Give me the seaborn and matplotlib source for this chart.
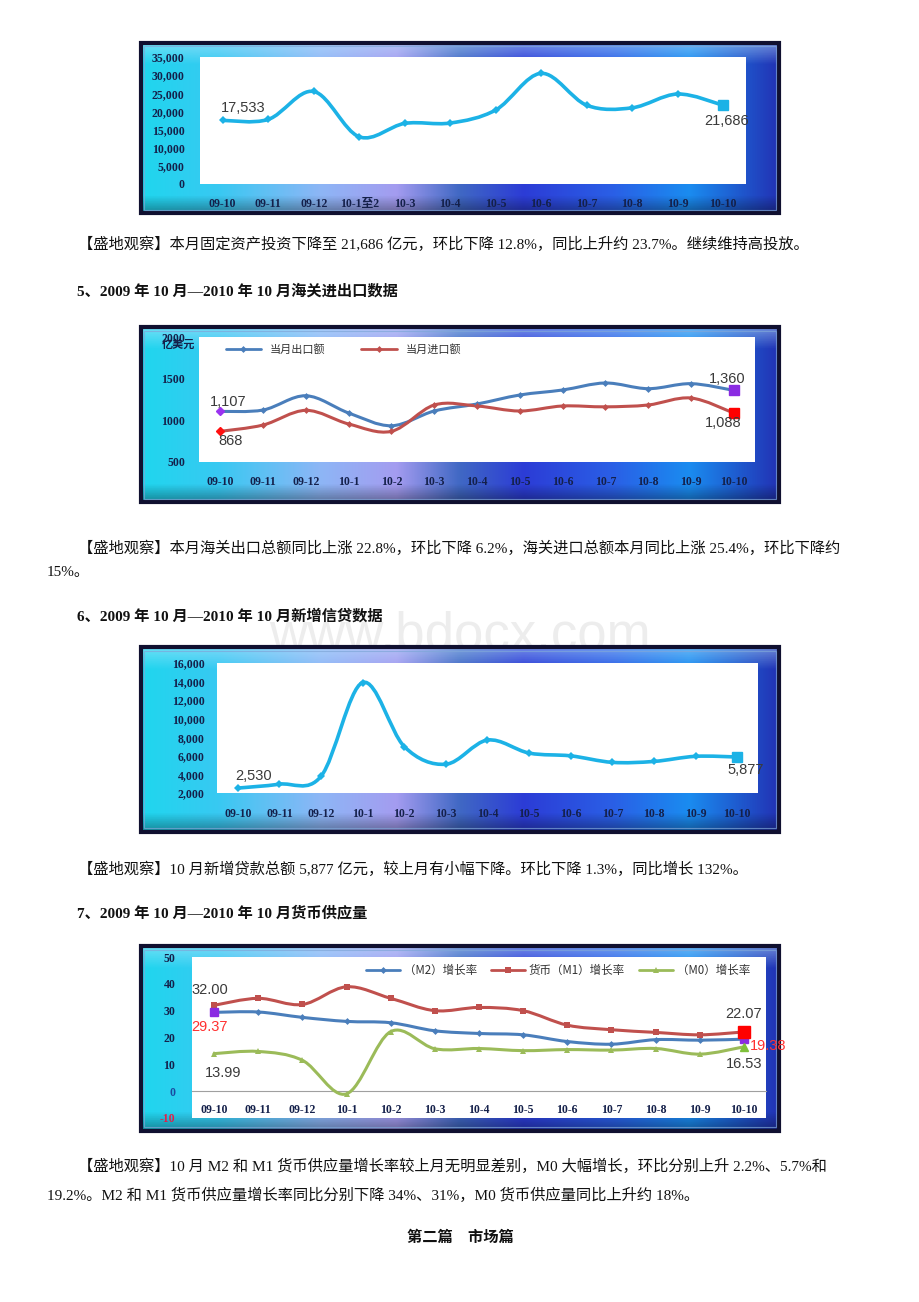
import numpy as np
import matplotlib
matplotlib.use("Agg")
import matplotlib.pyplot as plt
from matplotlib.path import Path
from matplotlib.patches import PathPatch, Rectangle
from matplotlib.lines import Line2D
from matplotlib.colors import to_rgb
import seaborn as sns

sns.set_style("white")
plt.rcParams['font.family'] = ['Noto Sans CJK SC', 'DejaVu Sans']

# ---------------- data ----------------
months1 = ["09-10", "09-11", "09-12", "10-1至2", "10-3", "10-4", "10-5", "10-6", "10-7", "10-8", "10-9", "10-10"]
invest = [17533, 17800, 25500, 13000, 16700, 16800, 20400, 30500, 21700, 21000, 24800, 21686]

months = ["09-10", "09-11", "09-12", "10-1", "10-2", "10-3", "10-4", "10-5", "10-6", "10-7", "10-8", "10-9", "10-10"]
export_vals = [1107, 1124, 1295, 1088, 935, 1112, 1196, 1304, 1364, 1448, 1380, 1440, 1360]
import_vals = [868, 944, 1120, 956, 868, 1184, 1172, 1112, 1172, 1162, 1184, 1268, 1088]

loans = [2530, 2950, 3800, 13900, 7000, 5100, 7700, 6300, 6000, 5300, 5400, 5950, 5877]

m2 = [29.37, 29.5, 27.5, 26.0, 25.5, 22.5, 21.5, 21.0, 18.5, 17.5, 19.2, 19.0, 19.38]
m1 = [32.00, 34.6, 32.3, 38.9, 34.6, 30.0, 31.2, 30.0, 24.6, 22.9, 21.9, 21.0, 22.07]
m0 = [13.99, 14.8, 11.5, -1.0, 22.2, 15.8, 15.9, 15.1, 15.5, 15.3, 15.9, 13.8, 16.53]

ticks1 = [0, 5000, 10000, 15000, 20000, 25000, 30000, 35000]
ticks2 = [500, 1000, 1500, 2000]
ticks3 = [2000, 4000, 6000, 8000, 10000, 12000, 14000, 16000]
ticks4 = [-10, 0, 10, 20, 30, 40, 50]

W, H = 920, 1302
fig = plt.figure(figsize=(W / 100, H / 100), dpi=100)
fig.patch.set_facecolor("white")


def rect(x0, y0, x1, y1):
    return [x0 / W, 1 - y1 / H, (x1 - x0) / W, (y1 - y0) / H]


def ftext(x, y, s, **kw):
    fig.text(x / W, 1 - y / H, s, **kw)


# gradient frame background
stops = [(0.0, "#1fd6ee"), (0.12, "#38c9f2"), (0.28, "#8db6f6"), (0.40, "#a49cf0"),
         (0.50, "#4068c4"), (0.60, "#2c3cd6"), (0.74, "#2a5fe6"), (0.86, "#1a8cf0"),
         (1.0, "#2232b4")]


def gradient(nx=400, ny=100):
    pos = [s[0] for s in stops]
    cols = np.array([to_rgb(s[1]) for s in stops])
    xs = np.linspace(0, 1, nx)
    row = np.stack([np.interp(xs, pos, cols[:, k]) for k in range(3)], axis=1)
    img = np.repeat(row[None, :, :], ny, axis=0)
    ys = np.linspace(0, 1, ny)[:, None, None]
    top = np.clip(1 - ys / 0.12, 0, 1) * 0.45
    light = np.array(to_rgb("#c8ecff"))[None, None, :]
    img = img * (1 - top) + light * top
    bot = np.clip((ys - 0.9) / 0.1, 0, 1) * 0.35
    img = img * (1 - bot)
    return img


def frame(x0, y0, x1, y1):
    ax = fig.add_axes(rect(x0, y0, x1, y1), zorder=1)
    ax.imshow(gradient(), aspect="auto", extent=[0, 1, 0, 1], origin="upper")
    ax.set_xlim(0, 1)
    ax.set_ylim(0, 1)
    ax.axis("off")
    ax.add_patch(Rectangle((0, 0), 1, 1, transform=ax.transAxes, fill=False,
                           edgecolor="#101030", lw=3.0, clip_on=False))
    ax.add_patch(Rectangle((0.004, 0.02), 0.992, 0.96, transform=ax.transAxes, fill=False,
                           edgecolor="#7fa6d8", lw=0.8, alpha=0.7))
    return ax


def smooth(ax, xs, ys, color, lw, z=3):
    p = np.column_stack([xs, ys]).astype(float)
    n = len(p)
    verts = [tuple(p[0])]
    codes = [Path.MOVETO]
    for i in range(n - 1):
        p0 = p[i - 1] if i > 0 else p[i]
        p3 = p[i + 2] if i + 2 < n else p[i + 1]
        c1 = p[i] + (p[i + 1] - p0) / 6.0
        c2 = p[i + 1] - (p3 - p[i]) / 6.0
        verts += [tuple(c1), tuple(c2), tuple(p[i + 1])]
        codes += [Path.CURVE4] * 3
    ax.add_patch(PathPatch(Path(verts, codes), fill=False, edgecolor=color, lw=lw,
                           zorder=z, capstyle="round", joinstyle="round"))


TICKFONT = dict(family=["Liberation Serif", "Noto Sans CJK SC"], weight="bold", size=8.5)
LABFONT = ["Liberation Sans", "DejaVu Sans"]
LABSIZE = 10.5


def style_axes(ax, labels, yticks, ylim, xpad, ypad, fmt):
    ax.set_facecolor("white")
    for s in ax.spines.values():
        s.set_visible(False)
    ax.set_xlim(-0.5, len(labels) - 0.5)
    ax.set_ylim(*ylim)
    ax.set_xticks(range(len(labels)))
    ax.set_xticklabels(labels, fontdict=TICKFONT, color="#14204a")
    ax.set_yticks(yticks)
    ax.set_yticklabels([fmt(v) for v in yticks], fontdict=TICKFONT, color="#14204a")
    ax.tick_params(axis="x", length=0, pad=xpad)
    ax.tick_params(axis="y", length=0, pad=ypad)
    ax.grid(False)
    ax.set_xlabel("")
    ax.set_ylabel("")


# ---------------- chart 1 ----------------
frame(141, 43, 779, 213)
ax1 = fig.add_axes(rect(200, 57, 746, 184), zorder=2)
x1 = np.arange(len(months1))
c1 = "#1cb2e6"
smooth(ax1, x1, invest, c1, 2.6)
sns.lineplot(x=x1, y=invest, ax=ax1, color=c1, marker="D", markersize=4.5,
             markeredgewidth=0, linestyle="none", zorder=4)
ax1.plot(x1[-1], invest[-1], marker="s", markersize=7, color=c1, ls="none", zorder=5)
style_axes(ax1, months1, ticks1, (0, 35000), 10, 11, lambda v: f"{v:,}")
ax1.text(x1[0] - 0.05, invest[0] + 1500, f"{invest[0]:,}", fontsize=LABSIZE, family=LABFONT,
         color="#3a3a3a", va="bottom", ha="left")
ax1.text(x1[-1] + 0.08, invest[-1] - 2300, f"{invest[-1]:,}", fontsize=LABSIZE, family=LABFONT,
         color="#3a3a3a", va="top", ha="center", clip_on=False, zorder=6)

# ---------------- chart 2 ----------------
frame(141, 327, 779, 502)
ax2 = fig.add_axes(rect(199, 337, 755, 462), zorder=2)
x2 = np.arange(len(months))
ce, ci = "#4a7ebb", "#c0504d"
smooth(ax2, x2, export_vals, ce, 2.2)
smooth(ax2, x2, import_vals, ci, 2.2)
sns.lineplot(x=x2, y=export_vals, ax=ax2, color=ce, marker="D", markersize=3.5,
             markeredgewidth=0, linestyle="none", zorder=4)
sns.lineplot(x=x2, y=import_vals, ax=ax2, color=ci, marker="D", markersize=3.5,
             markeredgewidth=0, linestyle="none", zorder=4)
ax2.plot(x2[0], export_vals[0], marker="D", markersize=4.5, color="#9a33f0", ls="none", zorder=5)
ax2.plot(x2[-1], export_vals[-1], marker="s", markersize=7, color="#8a2be2", ls="none", zorder=5)
ax2.plot(x2[0], import_vals[0], marker="D", markersize=4.5, color="#ff1010", ls="none", zorder=5)
ax2.plot(x2[-1], import_vals[-1], marker="s", markersize=7, color="#ff0000", ls="none", zorder=5)
style_axes(ax2, months, ticks2, (500, 2000), 10, 10, lambda v: f"{v}")
ax2.text(-0.98, 1985, "亿美元", fontsize=8, color="#14204a", ha="center", va="top",
         fontweight="bold", clip_on=False)
for x, v, dy, va, ha in [(-0.25, export_vals[0], 25, "bottom", "left"),
                         (-0.05, import_vals[0], -30, "top", "left"),
                         (11.85, export_vals[-1], 55, "bottom", "center"),
                         (11.75, import_vals[-1], -40, "top", "center")]:
    ax2.text(x, v + dy, f"{v:,}", fontsize=LABSIZE, family=LABFONT, color="#3a3a3a",
             va=va, ha=ha, clip_on=False, zorder=6)
h2 = [Line2D([0], [0], color=ce, lw=2, marker="D", markersize=3.5, markeredgewidth=0),
      Line2D([0], [0], color=ci, lw=2, marker="D", markersize=3.5, markeredgewidth=0)]
ax2.legend(h2, ["当月出口额", "当月进口额"], loc="upper left", bbox_to_anchor=(0.03, 1.02),
           ncol=2, frameon=False, fontsize=8, handlelength=3.2, columnspacing=3.2,
           labelcolor="#333333")

# ---------------- chart 3 ----------------
frame(141, 647, 779, 832)
ax3 = fig.add_axes(rect(217, 663, 758, 793), zorder=2)
x3 = np.arange(len(months))
smooth(ax3, x3, loans, c1, 2.6)
sns.lineplot(x=x3, y=loans, ax=ax3, color=c1, marker="D", markersize=4.5,
             markeredgewidth=0, linestyle="none", zorder=4)
ax3.plot(x3[-1], loans[-1], marker="s", markersize=7, color=c1, ls="none", zorder=5)
style_axes(ax3, months, ticks3, (2000, 16000), 11, 9, lambda v: f"{v:,}")
ax3.text(x3[0] - 0.05, loans[0] + 500, f"{loans[0]:,}", fontsize=LABSIZE, family=LABFONT,
         color="#3a3a3a", va="bottom", ha="left")
ax3.text(x3[-1] + 0.2, loans[-1] - 600, f"{loans[-1]:,}", fontsize=LABSIZE, family=LABFONT,
         color="#3a3a3a", va="top", ha="center", clip_on=False, zorder=6)

# ---------------- chart 4 ----------------
frame(141, 946, 779, 1131)
ax4 = fig.add_axes(rect(192, 957, 766, 1118), zorder=2)
x4 = np.arange(len(months))
cm2, cm1, cm0 = "#4a7ebb", "#c0504d", "#9bbb59"
ax4.spines["bottom"].set_position(("data", 0))
smooth(ax4, x4, m2, cm2, 2.2)
smooth(ax4, x4, m1, cm1, 2.2)
smooth(ax4, x4, m0, cm0, 2.2)
sns.lineplot(x=x4, y=m2, ax=ax4, color=cm2, marker="D", markersize=3.5,
             markeredgewidth=0, linestyle="none", zorder=4)
sns.lineplot(x=x4, y=m1, ax=ax4, color=cm1, marker="s", markersize=4.5,
             markeredgewidth=0, linestyle="none", zorder=4)
sns.lineplot(x=x4, y=m0, ax=ax4, color=cm0, marker="^", markersize=5,
             markeredgewidth=0, linestyle="none", zorder=4)
ax4.plot(x4[0], m2[0], marker="s", markersize=6, color="#8a2be2", ls="none", zorder=5)
ax4.plot(x4[-1], m2[-1], marker="s", markersize=6, color="#8a2be2", ls="none", zorder=5)
ax4.plot(x4[-1], m1[-1], marker="s", markersize=8, color="#ff0000", ls="none", zorder=5)
ax4.plot(x4[-1], m0[-1], marker="^", markersize=6, color="#7fc03a", ls="none", zorder=6)
style_axes(ax4, months, ticks4, (-10, 50), 9, 12, lambda v: f"{v}")
ax4.spines["bottom"].set_visible(True)
ax4.spines["bottom"].set_color("#a0a0a0")
ax4.spines["bottom"].set_linewidth(0.8)
ax4.set_xticks(np.arange(len(months) + 1) - 0.5, minor=True)
ax4.tick_params(axis="x", which="minor", length=3, color="#a0a0a0", direction="out")
ylab = ax4.get_yticklabels()
ylab[0].set_color("#e0204a")
ylab[1].set_color("#1a4aa0")
for x, v, dy, va, col in [(-0.1, m1[0], 3.2, "bottom", "#3a3a3a"),
                          (-0.1, m2[0], -3.0, "top", "#ff3030"),
                          (0.2, m0[0], -4.5, "top", "#3a3a3a"),
                          (12.0, m1[-1], 4.0, "bottom", "#3a3a3a"),
                          (12.55, m2[-1], -2.6, "center", "#ff3030"),
                          (12.0, m0[-1], -3.8, "top", "#3a3a3a")]:
    ax4.text(x, v + dy, f"{v:.2f}", fontsize=LABSIZE, family=LABFONT, color=col,
             va=va, ha="center", clip_on=False, zorder=7)
h4 = [Line2D([0], [0], color=cm2, lw=2, marker="D", markersize=3.5, markeredgewidth=0),
      Line2D([0], [0], color=cm1, lw=2, marker="s", markersize=4.5, markeredgewidth=0),
      Line2D([0], [0], color=cm0, lw=2, marker="^", markersize=5, markeredgewidth=0)]
ax4.legend(h4, ["（M2）增长率", "货币（M1）增长率", "（M0）增长率"], loc="upper right",
           bbox_to_anchor=(0.99, 1.02), ncol=3, frameon=False, fontsize=8.3,
           handlelength=3.0, columnspacing=1.2, handletextpad=0.3, labelcolor="#333333")

# ---------------- document text ----------------
TXTFAM = ["Liberation Serif", "Noto Sans CJK SC"]
BODY = dict(fontsize=11, color="#111111", va="center", ha="left", zorder=0, family=TXTFAM)
HEAD = dict(fontsize=11, color="#111111", va="center", ha="left", fontweight="bold", zorder=0,
            family=TXTFAM)
ftext(78, 244, "【盛地观察】本月固定资产投资下降至 21,686 亿元，环比下降 12.8%，同比上升约 23.7%。继续维持高投放。", **BODY)
ftext(77, 291, "5、2009 年 10 月—2010 年 10 月海关进出口数据", **HEAD)
ftext(78, 548, "【盛地观察】本月海关出口总额同比上涨 22.8%，环比下降 6.2%，海关进口总额本月同比上涨 25.4%，环比下降约", **BODY)
ftext(47, 573, "15%。", **BODY)
ftext(77, 616, "6、2009 年 10 月—2010 年 10 月新增信贷数据", **HEAD)
ftext(78, 869, "【盛地观察】10 月新增贷款总额 5,877 亿元，较上月有小幅下降。环比下降 1.3%，同比增长 132%。", **BODY)
ftext(77, 913, "7、2009 年 10 月—2010 年 10 月货币供应量", **HEAD)
ftext(78, 1166, "【盛地观察】10 月 M2 和 M1 货币供应量增长率较上月无明显差别，M0 大幅增长，环比分别上升 2.2%、5.7%和", **BODY)
ftext(47, 1195, "19.2%。M2 和 M1 货币供应量增长率同比分别下降 34%、31%，M0 货币供应量同比上升约 18%。", **BODY)
ftext(460, 1238, "第二篇　市场篇", fontsize=11, color="#111111", va="center", ha="center",
      fontweight="bold", family=TXTFAM)
ftext(460, 636, "www.bdocx.com", fontsize=38, color="#ededed", va="center", ha="center",
      family=["Liberation Sans", "DejaVu Sans"], zorder=-1)

fig.savefig("out.png", dpi=100, facecolor="white")
